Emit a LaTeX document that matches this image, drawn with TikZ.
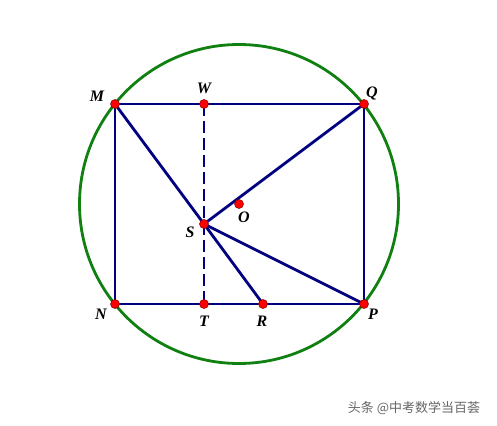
\documentclass[tikz,border=0pt]{standalone}
\usepackage{fontspec}
\setmainfont{Liberation Serif}
\newfontfamily\cjk{Noto Sans CJK SC}
\definecolor{navy}{RGB}{0,0,128}
\definecolor{dgreen}{RGB}{16,128,16}
\begin{document}
\begin{tikzpicture}[x=1pt,y=-1pt,
  seg/.style={draw=navy,line width=2.8pt},
  pt/.style={circle,fill=red,draw=red!50!black,line width=0.5pt,inner sep=0pt,minimum size=9pt},
  lab/.style={font=\bfseries\itshape\fontsize{16}{16}\selectfont,inner sep=0pt}]
\useasboundingbox (0,0) rectangle (497,425);
\fill[white] (0,0) rectangle (497,425);
\coordinate (M) at (115,104);
\coordinate (W) at (204,104);
\coordinate (Q) at (364,104);
\coordinate (N) at (115,304);
\coordinate (T) at (204,304);
\coordinate (R) at (263,304);
\coordinate (P) at (364,304);
\coordinate (S) at (204,224);
\coordinate (O) at (239,204);
\draw[dgreen,line width=2.8pt] (O) circle (159.5);
\draw[seg] (M) -- (Q) -- (P) -- (N) -- cycle;
\draw[seg] (M) -- (S) -- (Q);
\draw[seg] (S) -- (P);
\draw[seg] (S) -- (R);
\draw[seg,dash pattern=on 12pt off 5pt] (W) -- (T);
\foreach \p in {M,W,Q,N,T,R,P,S,O} \node[pt] (d\p) at (\p) {};
\node[lab] (lM) at (97,96) {M};
\node[lab] (lW) at (204,88) {W};
\node[lab] (lQ) at (372,93) {Q};
\node[lab] (lS) at (190,232) {S};
\node[lab] (lO) at (244,217) {O};
\node[lab] (lN) at (101,314) {N};
\node[lab] (lT) at (204,321) {T};
\node[lab] (lR) at (262,321) {R};
\node[lab] (lP) at (373,314) {P};
\node[font=\cjk\fontsize{13}{13}\selectfont,text=black!60,inner sep=0pt] (wm) at (414,408) {头条 @中考数学当百荟};
\end{tikzpicture}
\end{document}
